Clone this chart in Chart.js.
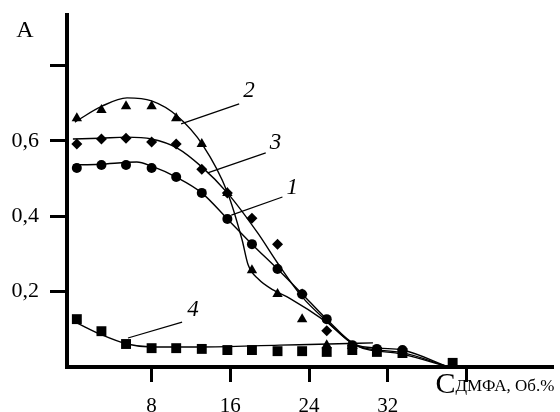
<!DOCTYPE html>
<html>
<head>
<meta charset="utf-8">
<script src="https://cdn.jsdelivr.net/npm/chart.js@4/dist/chart.umd.min.js"></script>
<style>
  html, body { margin: 0; background: #fff; }
  #wrap { width: 560px; height: 412px; }
</style>
</head>
<body>
<div id="wrap"><canvas id="chart"></canvas></div>
<script>
// measured points (C, vol.% ; A)
const xs = [0.4, 2.9, 5.4, 8.0, 10.5, 13.1, 15.7, 18.2, 20.8, 23.3, 25.8, 28.4, 30.9, 33.5];
const circleA = [0.528, 0.536, 0.536, 0.528, 0.504, 0.462, 0.393, 0.326, 0.260, 0.193, 0.127, 0.058, 0.048, 0.045];
const triangleA = [0.660, 0.682, 0.692, 0.692, 0.660, 0.592, 0.462, 0.257, 0.194, 0.127, 0.058];
const diamondA = [0.592, 0.605, 0.607, 0.597, 0.592, 0.525, 0.462, 0.395, 0.326, 0.194, 0.096, 0.050];
const squareXs = xs.concat([38.6]);
const squareA = [0.127, 0.095, 0.061, 0.050, 0.050, 0.048, 0.045, 0.045, 0.042, 0.042, 0.040, 0.045, 0.040, 0.037, 0.011];

// fitted curves
const curve1X = [0.0, 2.7, 6.5, 8.0, 10.5, 13.1, 15.7, 18.2, 20.8, 23.3, 25.8, 28.7, 31.1, 33.5, 38.2];
const curve1Y = [0.536, 0.538, 0.544, 0.533, 0.504, 0.462, 0.393, 0.326, 0.260, 0.194, 0.127, 0.060, 0.050, 0.045, 0.0];
const curve2X = [0.2, 2.95, 5.5, 8.0, 10.6, 13.2, 15.7, 17.2, 17.8, 18.9, 20.4, 22.0, 25.8, 28.7, 33.5, 38.2];
const curve2Y = [0.650, 0.692, 0.714, 0.706, 0.666, 0.589, 0.464, 0.337, 0.272, 0.232, 0.204, 0.183, 0.119, 0.058, 0.038, 0.0];
const curve3X = [0.0, 2.74, 5.48, 8.0, 10.6, 13.1, 15.7, 18.8, 20.8, 23.3, 25.8, 28.7, 33.5, 38.2];
const curve3Y = [0.605, 0.607, 0.610, 0.605, 0.581, 0.531, 0.462, 0.355, 0.276, 0.186, 0.122, 0.058, 0.034, 0.0];
const curve4X = [0.4, 2.95, 5.5, 8.0, 12.9, 21.0, 26.0, 30.5];
const curve4Y = [0.117, 0.085, 0.061, 0.053, 0.053, 0.058, 0.061, 0.064];

// curve numbers and their leader lines
const curveLabels = ["2", "3", "1", "4"];
const labelPos = [[17.9, 0.732], [20.6, 0.594], [22.3, 0.475], [12.2, 0.151]];
const leaderFrom = [[11.0, 0.645], [13.7, 0.515], [16.1, 0.403], [5.6, 0.077]];
const leaderTo = [[16.9, 0.698], [19.6, 0.568], [21.3, 0.451], [11.1, 0.119]];

const xTicks = [8, 16, 24, 32, 40];
const yTicks = [0.2, 0.4, 0.6, 0.8];

const pts = (x, y) => y.map((v, i) => ({ x: x[i], y: v }));

function markers(data, style, r) {
  return {
    data: data, showLine: false, pointStyle: style, pointRadius: r,
    backgroundColor: "#000", borderWidth: 0
  };
}
function curve(data) {
  return {
    data: data, showLine: true, pointRadius: 0, borderColor: "#000",
    borderWidth: 1.4, cubicInterpolationMode: "monotone", fill: false
  };
}

const datasets = [
  curve(pts(curve1X, curve1Y)),
  curve(pts(curve2X, curve2Y)),
  curve(pts(curve3X, curve3Y)),
  curve(pts(curve4X, curve4Y)),
  markers(pts(xs, circleA), "circle", 5),
  markers(pts(xs, triangleA), "triangle", 6),
  markers(pts(xs, diamondA), "rectRot", 5.5),
  markers(pts(squareXs, squareA), "rect", 7)
];
leaderFrom.forEach((p, i) => {
  datasets.push({
    data: [{ x: p[0], y: p[1] }, { x: leaderTo[i][0], y: leaderTo[i][1] }],
    showLine: true, pointRadius: 0, borderColor: "#000", borderWidth: 1.2
  });
});

const textPlugin = {
  id: "texts",
  afterDraw(chart) {
    const c = chart.ctx, xS = chart.scales.x, yS = chart.scales.y, a = chart.chartArea;
    c.save();
    c.fillStyle = "#000";
    c.textAlign = "center";
    c.textBaseline = "middle";
    c.font = "italic 23px 'Liberation Serif'";
    curveLabels.forEach((t, i) => {
      c.fillText(t, xS.getPixelForValue(labelPos[i][0]), yS.getPixelForValue(labelPos[i][1]));
    });
    c.font = "24px 'Liberation Serif'";
    c.fillText("A", a.left - 42, a.top + 16);
    c.textAlign = "left";
    c.textBaseline = "alphabetic";
    const cx = xS.getPixelForValue(40) - 31;
    c.font = "30px 'Liberation Serif'";
    c.fillText("C", cx, a.bottom + 26);
    const w = c.measureText("C").width;
    c.font = "17px 'Liberation Serif'";
    c.fillText("ДМФА, Об.%", cx + w, a.bottom + 24);
    c.restore();
  }
};

Chart.defaults.font.family = "'Liberation Serif'";
Chart.defaults.color = "#000";

new Chart(document.getElementById("chart"), {
  type: "scatter",
  data: { datasets: datasets },
  plugins: [textPlugin],
  options: {
    responsive: true,
    maintainAspectRatio: false,
    animation: false,
    layout: { padding: { left: 0, top: 15, right: 5, bottom: 0 } },
    plugins: { legend: { display: false }, tooltip: { enabled: false } },
    scales: {
      x: {
        type: "linear", min: -0.6, max: 48.8,
        afterBuildTicks: s => { s.ticks = xTicks.map(v => ({ value: v })); },
        afterFit: s => { s.height = 45; s.paddingLeft = 0; s.paddingRight = 0; },
        border: { display: true, color: "#000", width: 4 },
        grid: { drawOnChartArea: false, drawTicks: true, tickLength: 15, tickWidth: 3, tickColor: "#000" },
        ticks: { padding: 12, font: { size: 21 }, maxRotation: 0, callback: v => v === 40 ? "" : String(v) }
      },
      y: {
        type: "linear", min: 0, max: 0.934,
        afterBuildTicks: s => { s.ticks = yTicks.map(v => ({ value: v })); },
        afterFit: s => { s.width = 67; s.paddingTop = 0; s.paddingBottom = 0; },
        border: { display: true, color: "#000", width: 4 },
        grid: { drawOnChartArea: false, drawTicks: true, tickLength: 17, tickWidth: 3, tickColor: "#000" },
        ticks: { padding: 11, font: { size: 22 }, callback: v => v > 0.7 ? "" : v.toFixed(1).replace(".", ",") }
      }
    }
  }
});
</script>
</body>
</html>
